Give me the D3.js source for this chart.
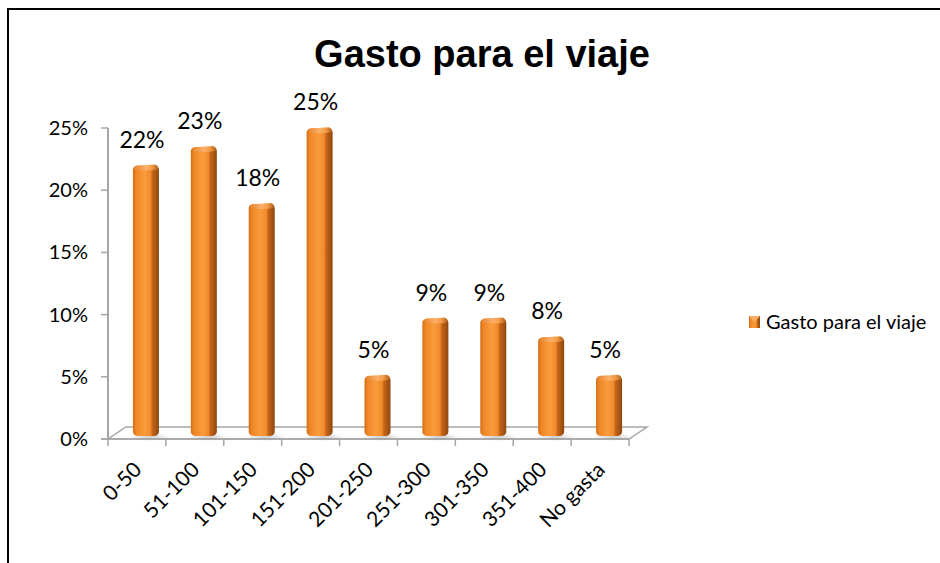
<!DOCTYPE html>
<html><head><meta charset="utf-8">
<script src="https://cdn.jsdelivr.net/npm/d3@7"></script>
<style>html,body{margin:0;padding:0;background:#fff;}svg{display:block;}</style>
</head><body>
<script>
const categories = ["0-50","51-100","101-150","151-200","201-250","251-300","301-350","351-400","No gasta"];
const values = [0.215, 0.23, 0.184, 0.245, 0.046, 0.092, 0.092, 0.077, 0.046];
const valueLabels = ["22%","23%","18%","25%","5%","9%","9%","8%","5%"];
const yTicks = [0, 0.05, 0.10, 0.15, 0.20, 0.25];
const seriesName = "Gasto para el viaje";
const title = "Gasto para el viaje";

const W = 940, H = 563;
const svg = d3.select("body").append("svg").attr("width", W).attr("height", H);
const font = "Lato, 'Open Sans', sans-serif";

// frame
svg.append("path").attr("d", "M8,563 L8,9 L940,9").attr("fill","none").attr("stroke","#000").attr("stroke-width",2);

const x0 = 108, x1 = 629, y0 = 439, yTop = 128;
const dx = 18, dy = -12;
const x = d3.scaleBand().domain(categories).range([x0, x1]).padding(0);
const y = d3.scaleLinear().domain([0, 0.25]).range([y0, yTop]);

const defs = svg.append("defs");
const g1 = defs.append("linearGradient").attr("id","barg").attr("x1","0").attr("x2","1").attr("y1","0").attr("y2","0");
[[0,"#D26E18"],[0.12,"#EE8626"],[0.45,"#FA9C3C"],[0.68,"#F08A2A"],[0.74,"#C9661A"],[1,"#8F480E"]]
  .forEach(s=>g1.append("stop").attr("offset",s[0]).attr("stop-color",s[1]));
const g2 = defs.append("linearGradient").attr("id","capg").attr("x1","0").attr("x2","1").attr("y1","0").attr("y2","0");
[[0,"#E8832A"],[0.5,"#FBB06A"],[0.75,"#F39A44"],[1,"#B0601A"]]
  .forEach(s=>g2.append("stop").attr("offset",s[0]).attr("stop-color",s[1]));
const gs = defs.append("radialGradient").attr("id","shadow");
gs.append("stop").attr("offset",0).attr("stop-color","#999").attr("stop-opacity",0.5);
gs.append("stop").attr("offset",1).attr("stop-color","#999").attr("stop-opacity",0);

// floor
svg.append("path")
  .attr("d", `M${x0},${y0} L${x1},${y0} L${x1+dx},${y0+dy} L${x0+dx},${y0+dy} Z`)
  .attr("fill","#fff").attr("stroke","#A6A6A6").attr("stroke-width",1.5);

// y axis
svg.append("line").attr("x1",x0).attr("x2",x0).attr("y1",yTop).attr("y2",y0).attr("stroke","#A6A6A6").attr("stroke-width",2);
const yAxis = svg.append("g");
yTicks.forEach(t=>{
  yAxis.append("line").attr("x1",x0-7).attr("x2",x0).attr("y1",y(t)).attr("y2",y(t)).attr("stroke","#A6A6A6").attr("stroke-width",1.5);
  yAxis.append("text").attr("x",88).attr("y",y(t)).attr("dy","0.35em").attr("text-anchor","end")
    .attr("font-family",font).attr("font-size",20).attr("fill","#000").text(d3.format(".0%")(t));
});

// x axis ticks
const bounds = categories.map(c=>x(c)).concat([x1]);
bounds.forEach(b=>{
  svg.append("line").attr("x1",b).attr("x2",b).attr("y1",y0).attr("y2",y0+7).attr("stroke","#A6A6A6").attr("stroke-width",1.5);
});
svg.append("line").attr("x1",x0-7).attr("x2",x1).attr("y1",y0).attr("y2",y0).attr("stroke","#A6A6A6").attr("stroke-width",1.5);

// x labels
categories.forEach(c=>{
  const cx = x(c) + x.bandwidth()/2 + 6, cy = 471;
  svg.append("text").attr("transform",`translate(${cx},${cy}) rotate(-45)`).attr("text-anchor","end")
    .attr("font-family",font).attr("font-size",21).attr("fill","#000").text(c);
});

// bars
const bw = 26;
categories.forEach((c,i)=>{
  const cx = x(c) + x.bandwidth()/2 + dx/2;
  const base = y0 + dy/2 + 3;
  const top = y(values[i]) + dy/2;
  svg.append("ellipse").attr("cx",cx+4).attr("cy",base+1).attr("rx",20).attr("ry",4).attr("fill","url(#shadow)");
  svg.append("rect").attr("x",cx-bw/2).attr("y",top).attr("width",bw).attr("height",base-top)
    .attr("rx",5).attr("ry",4).attr("fill","url(#barg)");
  svg.append("path").attr("d",`M${cx-bw/2+1},${top+4} Q${cx-bw/2+2},${top} ${cx-bw/2+7},${top} L${cx+bw/2-4},${top-1} Q${cx+bw/2},${top} ${cx+bw/2-1},${top+4} Q${cx+2},${top+6} ${cx-bw/2+1},${top+4} Z`)
    .attr("fill","url(#capg)");
  svg.append("text").attr("x",cx-4).attr("y",top-18).attr("text-anchor","middle")
    .attr("font-family",font).attr("font-size",23).attr("fill","#000").text(valueLabels[i]);
});

// title
svg.append("text").attr("x",482).attr("y",67).attr("text-anchor","middle")
  .attr("font-family","'Liberation Sans', Arial, sans-serif").attr("font-weight","bold").attr("font-size",38).attr("fill","#000").text(title);

// legend
svg.append("rect").attr("x",749).attr("y",316).attr("width",11).attr("height",12).attr("fill","url(#barg)");
svg.append("path").attr("d","M749,316 L760,316 L754.5,322 Z").attr("fill","#FBB06A");
svg.append("text").attr("x",766).attr("y",322).attr("dy","0.35em").attr("font-family",font).attr("font-size",20).attr("fill","#000").text(seriesName);
</script>
</body></html>
